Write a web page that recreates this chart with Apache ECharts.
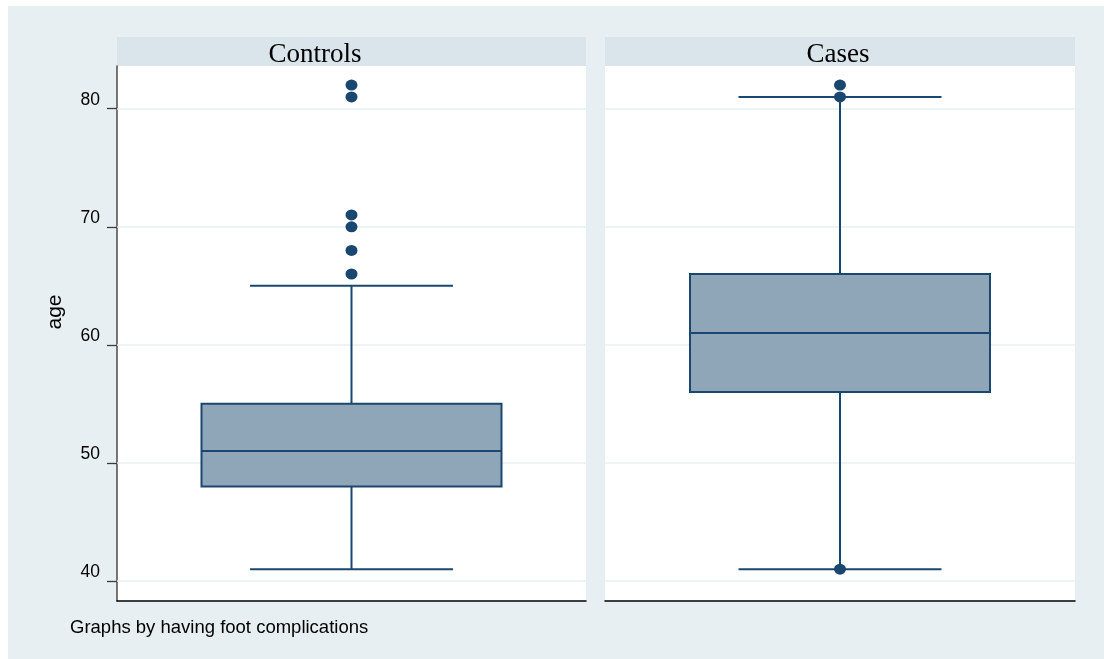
<!DOCTYPE html>
<html>
<head>
<meta charset="utf-8">
<title>age by having foot complications</title>
<script src="https://cdn.jsdelivr.net/npm/echarts@6/dist/echarts.min.js"></script>
<style>
  html, body { margin: 0; padding: 0; background: #ffffff; }
  #chart { width: 1104px; height: 659px; }
</style>
</head>
<body>
<div id="chart"></div>
<script>
// Panels (one per group) and the box-plot summary for age in each
const groups = ['Controls', 'Cases'];
const whiskerLow = [41, 41];
const q1 = [48, 56];
const median = [51, 61];
const q3 = [55, 66];
const whiskerHigh = [65, 81];
const outliers = [
  [66, 68, 70, 71, 81, 82],  // Controls
  [41, 81, 82]               // Cases
];
const yTicks = [40, 50, 60, 70, 80];
const yMin = 38.3;
const yMax = 83.62;

const NAVY = '#1a476f';
const BOX_FILL = '#8fa6b9';
const GRID_LINE = '#e9f0f3';

const chart = echarts.init(document.getElementById('chart'), null, { renderer: 'canvas' });

const panelLeft = [117, 605];
const panelWidth = [469, 470];
const titleCenter = [315, 838];

const grids = panelLeft.map((l, i) => ({
  left: l, top: 66, width: panelWidth[i], height: 535,
  show: true, backgroundColor: '#ffffff', borderWidth: 0
}));

const xAxes = groups.map((g, i) => ({
  type: 'value', gridIndex: i, min: 0, max: 1,
  axisLine: { show: true, onZero: false, lineStyle: { color: '#000000', width: 1.5 } },
  axisTick: { show: false }, axisLabel: { show: false }, splitLine: { show: false }
}));

const yAxes = groups.map((g, i) => ({
  type: 'value', gridIndex: i, min: yMin, max: yMax,
  axisLine: { show: i === 0, lineStyle: { color: '#4a4a4a', width: 1.5 } },
  axisTick: {
    show: i === 0, customValues: yTicks, length: 10, inside: false,
    lineStyle: { color: '#3a3a3a', width: 1.3 }
  },
  axisLabel: {
    show: i === 0, customValues: yTicks, margin: 17,
    color: '#000000', fontFamily: 'Liberation Sans, Arial, sans-serif', fontSize: 17.5,
    verticalAlign: 'bottom'
  },
  splitLine: { show: false }
}));

// Draws whiskers, caps, box and median from the summary values
function renderBox(params, api) {
  const cx = api.coord([api.value(0), api.value(3)])[0];
  const y = (d) => api.coord([api.value(0), api.value(d)])[1];
  const yLo = y(1), yQ1 = y(2), yMed = y(3), yQ3 = y(4), yHi = y(5);
  const boxHalf = 150, capHalf = 101.5;
  const line = (x1, y1, x2, y2) => ({
    type: 'line', shape: { x1, y1, x2, y2 },
    style: { stroke: NAVY, lineWidth: 2 }
  });
  return {
    type: 'group',
    children: [
      line(cx, yHi, cx, yQ3),
      line(cx, yQ1, cx, yLo),
      line(cx - capHalf, yHi, cx + capHalf, yHi),
      line(cx - capHalf, yLo, cx + capHalf, yLo),
      {
        type: 'rect',
        shape: { x: cx - boxHalf, y: yQ3, width: boxHalf * 2, height: yQ1 - yQ3 },
        style: { fill: BOX_FILL, stroke: NAVY, lineWidth: 2 }
      },
      line(cx - boxHalf, yMed, cx + boxHalf, yMed)
    ]
  };
}

const series = [];
groups.forEach((g, i) => {
  // light horizontal guides at the labelled ages, kept beneath the boxes
  series.push({
    type: 'scatter', xAxisIndex: i, yAxisIndex: i, data: [], silent: true, z: 1,
    markLine: {
      silent: true, z: 1, symbol: ['none', 'none'], label: { show: false },
      lineStyle: { color: GRID_LINE, width: 1.5, type: 'solid' },
      emphasis: { disabled: true },
      animation: false,
      data: yTicks.map(v => ({ yAxis: v }))
    }
  });
  series.push({
    type: 'custom', xAxisIndex: i, yAxisIndex: i, z: 10, silent: true,
    renderItem: renderBox,
    encode: { x: 0, y: [1, 2, 3, 4, 5] },
    data: [[0.5, whiskerLow[i], q1[i], median[i], q3[i], whiskerHigh[i]]]
  });
  series.push({
    type: 'scatter', xAxisIndex: i, yAxisIndex: i, z: 11, silent: true,
    symbol: 'circle', symbolSize: [12, 11],
    itemStyle: { color: NAVY, opacity: 1 },
    data: outliers[i].map(v => [0.5, v])
  });
});

const option = {
  backgroundColor: '#ffffff',
  animation: false,
  grid: grids,
  xAxis: xAxes,
  yAxis: yAxes,
  series: series,
  graphic: [
    { type: 'rect', z: -10, silent: true, shape: { x: 8, y: 6, width: 1096, height: 653 }, style: { fill: '#e8eff2' } },
    { type: 'rect', z: -5, silent: true, shape: { x: 117, y: 37, width: 469, height: 29 }, style: { fill: '#d9e5eb' } },
    { type: 'rect', z: -5, silent: true, shape: { x: 605, y: 37, width: 470, height: 29 }, style: { fill: '#d9e5eb' } },
    ...groups.map((g, i) => ({
      type: 'text', silent: true, x: titleCenter[i], y: 55,
      style: {
        text: g, fill: '#000000', fontSize: 27,
        fontFamily: 'Liberation Serif, Times New Roman, serif',
        textAlign: 'center', textVerticalAlign: 'middle'
      }
    })),
    {
      type: 'text', silent: true, x: 55, y: 312, rotation: Math.PI / 2,
      style: {
        text: 'age', fill: '#000000', fontSize: 21,
        fontFamily: 'Liberation Sans, Arial, sans-serif',
        textAlign: 'center', textVerticalAlign: 'middle'
      }
    },
    {
      type: 'text', silent: true, x: 70, y: 627.5,
      style: {
        text: 'Graphs by having foot complications', fill: '#000000', fontSize: 18.5,
        fontFamily: 'Liberation Sans, Arial, sans-serif',
        textAlign: 'left', textVerticalAlign: 'middle'
      }
    }
  ]
};

chart.setOption(option);
</script>
</body>
</html>
